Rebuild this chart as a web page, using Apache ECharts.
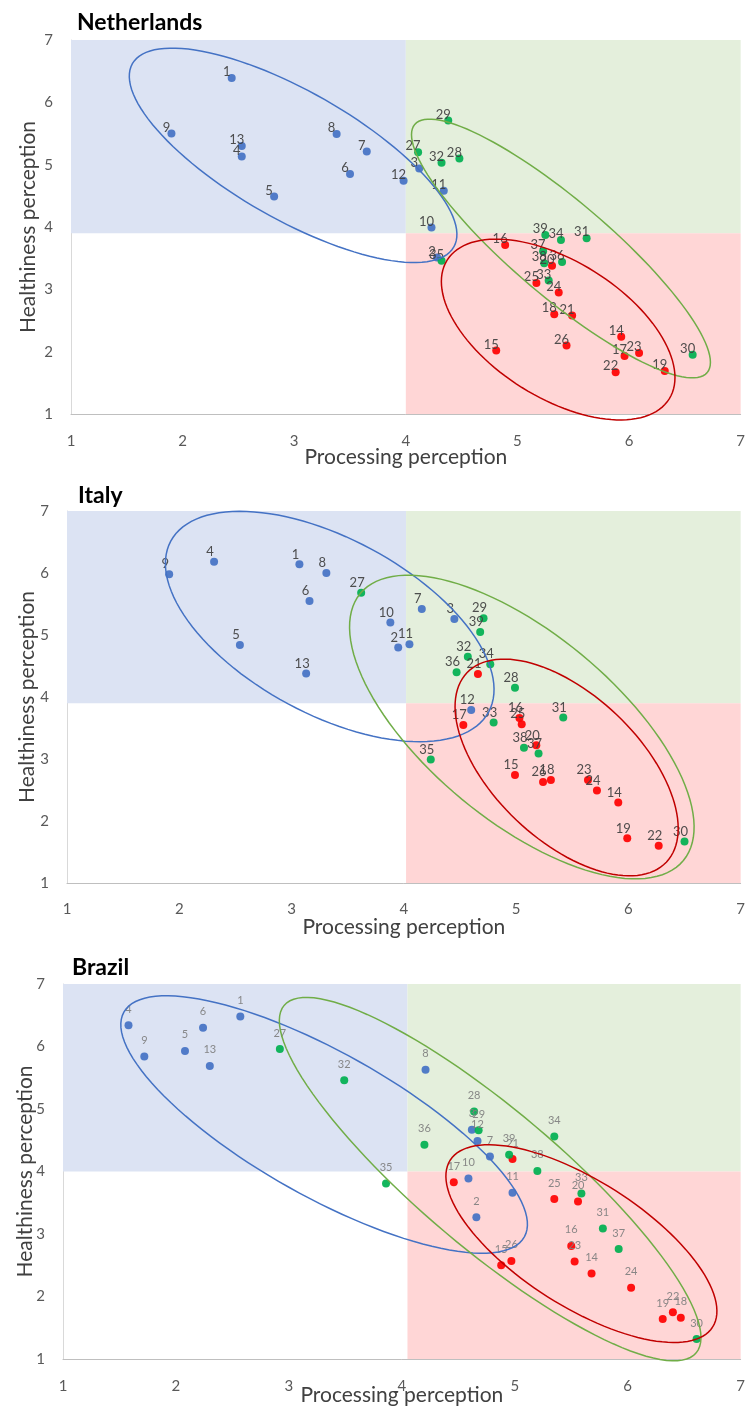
<!DOCTYPE html>
<html>
<head>
<meta charset="utf-8">
<script src="https://cdn.jsdelivr.net/npm/echarts@6/dist/echarts.min.js"></script>
<style>
  html, body { margin: 0; padding: 0; background: #fff; }
  #chart { width: 748px; height: 1407px; }
</style>
</head>
<body>
<div id="chart"></div>
<script>
// axis ticks shared by all three panels
const tickValues = [1, 2, 3, 4, 5, 6, 7];
const countries = ['Netherlands', 'Italy', 'Brazil'];

// where the shaded quadrants split, per panel
const splitX = [4.0, 4.02, 4.05];
const splitY = [3.9, 3.9, 4.0];

// points: [processing, healthiness, product id]
const nlBlue = [[2.44,6.39,1],[4.28,3.51,2],[4.12,4.94,3],[2.53,5.13,4],[2.82,4.49,5],[3.50,4.85,6],[3.65,5.21,7],
  [3.38,5.49,8],[1.90,5.50,9],[4.23,3.99,10],[4.34,4.58,11],[3.98,4.74,12],[2.53,5.30,13]];
const nlRed = [[5.93,2.24,14],[4.81,2.02,15],[4.89,3.71,16],[5.96,1.93,17],[5.33,2.60,18],[6.32,1.69,19],[5.31,3.38,20],
  [5.49,2.58,21],[5.88,1.67,22],[6.09,1.98,23],[5.37,2.95,24],[5.17,3.10,25],[5.44,2.10,26]];
const nlGreen = [[4.11,5.20,27],[4.48,5.10,28],[4.38,5.71,29],[6.57,1.95,30],[5.62,3.82,31],[4.32,5.03,32],[5.28,3.14,33],
  [5.39,3.79,34],[4.32,3.46,35],[5.40,3.44,36],[5.23,3.61,37],[5.24,3.42,38],[5.25,3.87,39]];

const itBlue = [[3.07,6.14,1],[3.95,4.80,2],[4.45,5.26,3],[2.31,6.18,4],[2.54,4.84,5],[3.16,5.55,6],[4.16,5.42,7],
  [3.31,6.00,8],[1.91,5.98,9],[3.88,5.20,10],[4.05,4.85,11],[4.60,3.79,12],[3.13,4.38,13]];
const itRed = [[5.91,2.30,14],[4.99,2.74,15],[5.03,3.66,16],[4.53,3.55,17],[5.31,2.66,18],[5.99,1.72,19],[5.18,3.22,20],
  [4.66,4.37,21],[6.27,1.60,22],[5.64,2.66,23],[5.72,2.49,24],[5.05,3.56,25],[5.24,2.63,26]];
const itGreen = [[3.62,5.68,27],[4.99,4.15,28],[4.71,5.27,29],[6.50,1.67,30],[5.42,3.67,31],[4.57,4.65,32],[4.80,3.59,33],
  [4.77,4.53,34],[4.24,2.99,35],[4.47,4.40,36],[5.20,3.09,37],[5.07,3.18,38],[4.68,5.05,39]];

const brBlue = [[2.57,6.48,1],[4.66,3.27,2],[4.62,4.67,3],[1.58,6.34,4],[2.08,5.93,5],[2.24,6.30,6],[4.78,4.24,7],
  [4.21,5.63,8],[1.72,5.84,9],[4.59,3.89,10],[4.98,3.66,11],[4.67,4.49,12],[2.30,5.69,13]];
const brRed = [[5.68,2.37,14],[4.88,2.50,15],[5.50,2.81,16],[4.46,3.83,17],[6.47,1.66,18],[6.31,1.64,19],[5.56,3.52,20],
  [4.98,4.20,21],[6.40,1.75,22],[5.53,2.56,23],[6.03,2.14,24],[5.35,3.56,25],[4.97,2.57,26]];
const brGreen = [[2.92,5.96,27],[4.64,4.96,28],[4.68,4.66,29],[6.61,1.32,30],[5.78,3.09,31],[3.49,5.46,32],[5.59,3.65,33],
  [5.35,4.56,34],[3.86,3.81,35],[4.20,4.43,36],[5.92,2.76,37],[5.20,4.01,38],[4.95,4.27,39]];

// cluster ellipses: [centre x, centre y, end of long half-axis x, y, short/long ratio]
const nlEllipses = [[2.99,5.15,4.43,3.68,0.346],[5.39,3.655,6.70,1.664,0.25],[5.365,2.355,6.36,1.242,0.522]];
const itEllipses = [[3.34,5.137,4.756,3.761,0.487],[5.051,3.516,6.49,1.363,0.448],[5.45,2.863,6.338,1.336,0.529]];
const brEllipses = [[3.312,4.752,5.085,2.954,0.3135],[4.782,3.878,6.606,1.098,0.258],[5.59,2.846,6.752,1.512,0.405]];

const pointSets = [
  [nlBlue, nlRed, nlGreen],
  [itBlue, itRed, itGreen],
  [brBlue, brRed, brGreen]
];
const ellipseSets = [nlEllipses, itEllipses, brEllipses];

const dotColors = ['#4472C4', '#FF0000', '#00B050'];
const ringColors = ['#4472C4', '#70AD47', '#C00000']; // blue, green, red
const shadeColors = ['#DCE3F3', '#E4EFDC', '#FFD6D6'];

const grids = [
  { left: 71, top: 40, width: 671, height: 374 },
  { left: 67, top: 511, width: 677, height: 372 },
  { left: 63, top: 984, width: 680, height: 378 }
];
// title boxes carry 5px padding
const titlePos = [{ left: 72, top: 6 }, { left: 73, top: 479 }, { left: 67, top: 951 }];
const labelStyles = [
  { position: [-1, -2], fontSize: 13, color: '#404040' },
  { position: [0, -6], fontSize: 13, color: '#404040' },
  { position: [4, -12], fontSize: 11, color: '#7F7F7F' }
];
const xNameGap = [33, 34, 26];
const yNameGap = [32, 29, 27];
const xLabelMargin = [20, 19, 20];

const FONT = 'Lato, "Open Sans", sans-serif';

function renderEllipse(params, api) {
  const c = api.coord([api.value(0), api.value(1)]);
  const e = api.coord([api.value(2), api.value(3)]);
  const r = api.value(4);
  const ax = e[0] - c[0], ay = e[1] - c[1];
  const bx = -ay * r, by = ax * r;
  const pts = [];
  for (let i = 0; i <= 120; i++) {
    const t = i / 120 * Math.PI * 2;
    pts.push([c[0] + ax * Math.cos(t) + bx * Math.sin(t), c[1] + ay * Math.cos(t) + by * Math.sin(t)]);
  }
  return {
    type: 'polyline',
    shape: { points: pts },
    style: { fill: null, stroke: api.visual('color'), lineWidth: 1.5 }
  };
}

function renderShade(params, api) {
  const p0 = api.coord([api.value(0), api.value(1)]);
  const p1 = api.coord([api.value(2), api.value(3)]);
  return {
    type: 'rect',
    shape: {
      x: Math.min(p0[0], p1[0]), y: Math.min(p0[1], p1[1]),
      width: Math.abs(p1[0] - p0[0]), height: Math.abs(p1[1] - p0[1])
    },
    style: { fill: api.visual('color') }
  };
}

const tMin = tickValues[0];
const tMax = tickValues[tickValues.length - 1];

const title = [], xAxis = [], yAxis = [], series = [];

countries.forEach((name, i) => {
  title.push({
    text: name,
    left: titlePos[i].left,
    top: titlePos[i].top,
    textStyle: { fontFamily: FONT, fontSize: 23, fontWeight: 'bold', color: '#000' }
  });

  xAxis.push({
    gridIndex: i,
    type: 'value',
    min: tMin, max: tMax, interval: 1,
    name: 'Processing perception',
    nameLocation: 'middle',
    nameGap: xNameGap[i],
    nameMoveOverlap: false,
    nameTextStyle: { fontFamily: FONT, fontSize: 21, color: '#404040' },
    axisLine: { show: true, lineStyle: { color: '#BFBFBF', width: 1 } },
    axisTick: { show: false },
    splitLine: { show: false },
    axisLabel: { fontFamily: FONT, fontSize: 15, color: '#595959', margin: xLabelMargin[i] }
  });

  yAxis.push({
    gridIndex: i,
    type: 'value',
    min: tMin, max: tMax, interval: 1,
    name: 'Healthiness perception',
    nameLocation: 'middle',
    nameGap: yNameGap[i],
    nameMoveOverlap: false,
    nameTextStyle: { fontFamily: FONT, fontSize: 21, color: '#404040' },
    axisLine: { show: true, lineStyle: { color: '#D9D9D9', width: 1 } },
    axisTick: { show: false },
    splitLine: { show: false },
    axisLabel: { fontFamily: FONT, fontSize: 15, color: '#595959', margin: 18 }
  });

  // quadrant shading: top-left, top-right, bottom-right
  series.push({
    type: 'custom',
    xAxisIndex: i, yAxisIndex: i,
    silent: true,
    z: 1,
    renderItem: renderShade,
    data: [
      { value: [tMin, splitY[i], splitX[i], tMax], itemStyle: { color: shadeColors[0] } },
      { value: [splitX[i], splitY[i], tMax, tMax], itemStyle: { color: shadeColors[1] } },
      { value: [splitX[i], tMin, tMax, splitY[i]], itemStyle: { color: shadeColors[2] } }
    ]
  });

  pointSets[i].forEach((pts, g) => {
    series.push({
      type: 'scatter',
      xAxisIndex: i, yAxisIndex: i,
      z: 3,
      symbolSize: 8,
      itemStyle: { color: dotColors[g], opacity: 0.92 },
      label: {
        show: true,
        position: labelStyles[i].position,
        align: 'center',
        verticalAlign: 'middle',
        fontFamily: FONT,
        fontSize: labelStyles[i].fontSize,
        color: labelStyles[i].color,
        formatter: p => String(p.value[2])
      },
      data: pts
    });
  });

  series.push({
    type: 'custom',
    xAxisIndex: i, yAxisIndex: i,
    silent: true,
    clip: false,
    z: 4,
    renderItem: renderEllipse,
    data: ellipseSets[i].map((v, k) => ({ value: v, itemStyle: { color: ringColors[k] } }))
  });
});

const chart = echarts.init(document.getElementById('chart'), null, { renderer: 'canvas' });
chart.setOption({
  animation: false,
  backgroundColor: '#fff',
  title: title,
  grid: grids,
  xAxis: xAxis,
  yAxis: yAxis,
  series: series
});
</script>
</body>
</html>
